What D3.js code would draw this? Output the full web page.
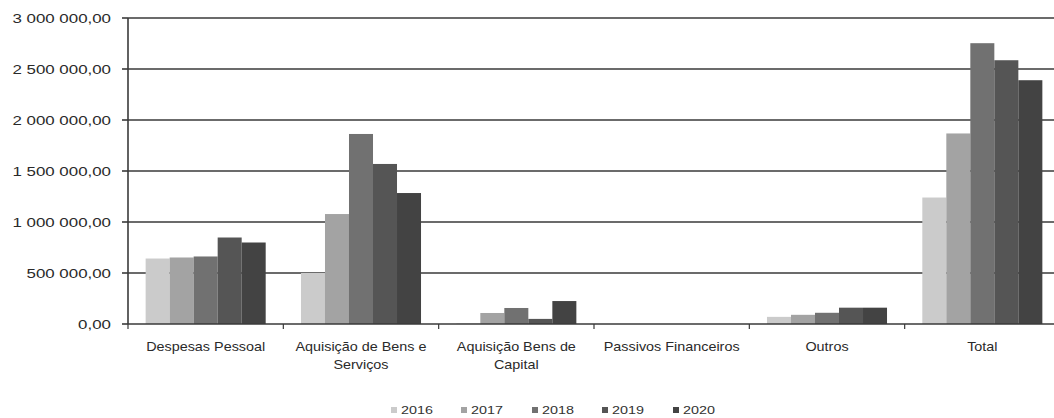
<!DOCTYPE html>
<html><head><meta charset="utf-8">
<script src="https://cdn.jsdelivr.net/npm/d3@7"></script>
<style>
html,body{margin:0;padding:0;background:#fff;}
svg{display:block;font-family:"Liberation Sans",Arial,sans-serif;}
</style></head>
<body>
<svg id="chart" width="1054" height="418"></svg>
<script>
const categories = ["Despesas Pessoal","Aquisição de Bens e Serviços","Aquisição Bens de Capital","Passivos Financeiros","Outros","Total"];
const categoryLines = [["Despesas Pessoal"],["Aquisição de Bens e","Serviços"],["Aquisição Bens de","Capital"],["Passivos Financeiros"],["Outros"],["Total"]];
const years = ["2016","2017","2018","2019","2020"];
const v2016 = [642000, 500000, 5000, 0, 70000, 1240000];
const v2017 = [652000, 1078000, 108000, 0, 90000, 1868000];
const v2018 = [662000, 1863000, 157000, 0, 110000, 2753000];
const v2019 = [848000, 1569000, 50000, 0, 160000, 2586000];
const v2020 = [799000, 1284000, 225000, 0, 160000, 2390000];
const yTicks = [0, 500000, 1000000, 1500000, 2000000, 2500000, 3000000];
const yTickLabels = ["0,00","500 000,00","1 000 000,00","1 500 000,00","2 000 000,00","2 500 000,00","3 000 000,00"];

const seriesValues = [v2016, v2017, v2018, v2019, v2020];
const colors = ["#cbcbcb","#a3a3a3","#717171","#555555","#434343"];

const svg = d3.select("#chart");
const plotLeft = 128, plotRight = 1060, plotTop = 18, plotBottom = 324;

const x = d3.scaleBand().domain(categories).range([plotLeft, plotRight]).paddingInner(0).paddingOuter(0);
const x1 = d3.scaleBand().domain(years).range([0, x.bandwidth()]).paddingInner(0).paddingOuter(0.735);
const y = d3.scaleLinear().domain([0, 3000000]).range([plotBottom, plotTop]);

// gridlines
svg.append("g").selectAll("line").data(yTicks.slice(1)).join("line")
  .attr("x1", plotLeft).attr("x2", plotRight)
  .attr("y1", d => y(d)).attr("y2", d => y(d))
  .attr("stroke", "#3a3a3a").attr("stroke-width", 1.6);

// bars
const rows = categories.map((c, i) => ({cat: c, vals: years.map((yr, j) => ({year: yr, value: seriesValues[j][i], color: colors[j]}))}));
const groups = svg.append("g").selectAll("g").data(rows).join("g")
  .attr("transform", d => `translate(${x(d.cat)},0)`);
groups.selectAll("rect").data(d => d.vals).join("rect")
  .attr("x", d => x1(d.year))
  .attr("width", x1.bandwidth())
  .attr("y", d => y(d.value))
  .attr("height", d => y(0) - y(d.value))
  .attr("fill", d => d.color);

// y axis
const yAxis = svg.append("g");
yAxis.append("line").attr("x1", plotLeft).attr("x2", plotLeft).attr("y1", y(3000000)).attr("y2", y(0))
  .attr("stroke", "#3a3a3a").attr("stroke-width", 1.6);
yAxis.selectAll("line.tick").data(yTicks).join("line").attr("class","tick")
  .attr("x1", plotLeft - 6).attr("x2", plotLeft)
  .attr("y1", d => y(d)).attr("y2", d => y(d))
  .attr("stroke", "#3a3a3a").attr("stroke-width", 1.6);
yAxis.selectAll("g.lab").data(yTicks).join("g").attr("class","lab")
  .attr("transform", (d) => `translate(111,${y(d) + 4.5}) scale(1.3,1)`)
  .append("text").attr("text-anchor","end").attr("font-size", 13).attr("fill","#2a2a2a")
  .text((d, i) => yTickLabels[i]);

// x axis
const xAxis = svg.append("g");
xAxis.append("line").attr("x1", plotLeft).attr("x2", plotRight).attr("y1", y(0)).attr("y2", y(0))
  .attr("stroke", "#3a3a3a").attr("stroke-width", 1.6);
const boundaries = categories.map(c => x(c)).concat([plotRight]);
xAxis.selectAll("line.tick").data(boundaries).join("line").attr("class","tick")
  .attr("x1", d => d).attr("x2", d => d).attr("y1", y(0)).attr("y2", y(0) + 5)
  .attr("stroke", "#3a3a3a").attr("stroke-width", 1.2);
const xl = xAxis.selectAll("g.lab").data(categories).join("g").attr("class","lab")
  .attr("transform", d => `translate(${x(d) + x.bandwidth()/2},351) scale(1.15,1)`);
xl.each(function(d, i) {
  const t = d3.select(this).append("text").attr("text-anchor","middle").attr("font-size", 12.5).attr("fill","#2a2a2a");
  categoryLines[i].forEach((ln, k) => t.append("tspan").attr("x", 0).attr("dy", k === 0 ? 0 : 18).text(ln));
});

// legend
const legendX = [391, 461, 532, 602, 673];
const lg = svg.append("g").selectAll("g").data(years).join("g")
  .attr("transform", (d, i) => `translate(${legendX[i]},414)`);
lg.append("rect").attr("x", 0).attr("y", -7).attr("width", 6).attr("height", 6).attr("fill", (d, i) => colors[i]);
lg.append("g").attr("transform", "translate(10,0) scale(1.25,1)")
  .append("text").attr("font-size", 11.5).attr("fill","#333").text(d => d);
</script>
</body></html>
